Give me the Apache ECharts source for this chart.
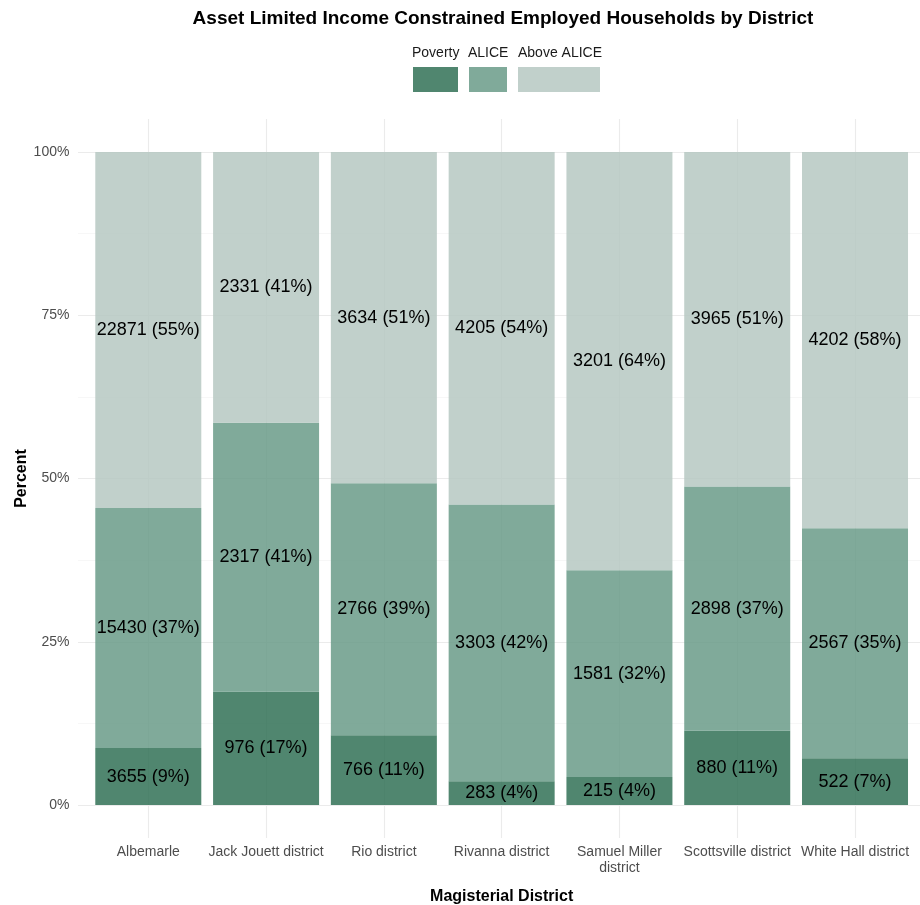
<!DOCTYPE html>
<html>
<head>
<meta charset="utf-8">
<script src="https://cdn.jsdelivr.net/npm/echarts@6/dist/echarts.min.js"></script>
<style>html,body{margin:0;padding:0;background:#fff;}#c{width:920px;height:905px;}</style>
</head>
<body>
<div id="c"></div>
<script>
const categories = ['Albemarle', 'Jack Jouett district', 'Rio district', 'Rivanna district', 'Samuel Miller district', 'Scottsville district', 'White Hall district'];
const tickLabels = ['Albemarle', 'Jack Jouett district', 'Rio district', 'Rivanna district', 'Samuel Miller\ndistrict', 'Scottsville district', 'White Hall district'];
const poverty = [3655, 976, 766, 283, 215, 880, 522];
const alice = [15430, 2317, 2766, 3303, 1581, 2898, 2567];
const aboveAlice = [22871, 2331, 3634, 4205, 3201, 3965, 4202];
const seriesNames = ['Poverty', 'ALICE', 'Above ALICE'];
const yTicks = [0, 25, 50, 75, 100];

const colors = ['rgba(49,113,86,0.85)', 'rgba(106,155,136,0.85)', 'rgba(182,200,194,0.85)'];
const counts = [poverty, alice, aboveAlice];
const totals = categories.map((_, i) => poverty[i] + alice[i] + aboveAlice[i]);
const FONT = "'Liberation Sans', Arial, sans-serif";
const GRID = '#ebebeb';

const chart = echarts.init(document.getElementById('c'), null, {renderer: 'canvas'});

const series = seriesNames.map((name, s) => ({
  name: name,
  type: 'bar',
  stack: 'total',
  xAxisIndex: 0, yAxisIndex: 0,
  barWidth: '90%',
  itemStyle: {color: colors[s]},
  emphasis: {disabled: true},
  data: categories.map((c, i) => counts[s][i] / totals[i] * 100),
  label: {
    show: true,
    position: 'inside',
    color: '#000000',
    fontFamily: FONT,
    fontSize: 18,
    textBorderWidth: 0,
    formatter: p => counts[s][p.dataIndex] + ' (' + Math.round(p.value) + '%)'
  }
}));

const legendCommon = {top: 67, itemHeight: 25, padding: 0, itemGap: 0, icon: 'rect', selectedMode: false, formatter: () => '', textStyle: {fontSize: 1}};

const option = {
  animation: false,
  backgroundColor: '#ffffff',
  textStyle: {fontFamily: FONT},
  title: {
    text: 'Asset Limited Income Constrained Employed Households by District',
    left: 498, top: 4, textAlign: 'center',
    textStyle: {fontFamily: FONT, fontSize: 19, fontWeight: 'bold', color: '#000'}
  },
  legend: [
    Object.assign({data: ['Poverty'], left: 413, itemWidth: 45}, legendCommon),
    Object.assign({data: ['ALICE'], left: 469, itemWidth: 38}, legendCommon),
    Object.assign({data: ['Above ALICE'], left: 518, itemWidth: 82}, legendCommon)
  ],
  graphic: [
    {type: 'text', left: 412, top: 46, style: {text: 'Poverty', fontFamily: FONT, fontSize: 14, fill: '#1a1a1a'}},
    {type: 'text', left: 468, top: 46, style: {text: 'ALICE', fontFamily: FONT, fontSize: 14, fill: '#1a1a1a'}},
    {type: 'text', left: 518, top: 46, style: {text: 'Above ALICE', fontFamily: FONT, fontSize: 14, fill: '#1a1a1a'}}
  ],
  grid: [
    {left: 89.4, right: 6.1, top: 152, bottom: 100, outerBoundsMode: 'none', containLabel: false},
    {left: 78, right: 0, top: 152, bottom: 100, outerBoundsMode: 'none', containLabel: false},
    {left: 148.3, right: 65, top: 119, bottom: 67, outerBoundsMode: 'none', containLabel: false}
  ],
  xAxis: [
    {
      gridIndex: 0, type: 'category', data: categories,
      axisLine: {show: false}, axisTick: {show: false}, splitLine: {show: false},
      axisLabel: {interval: 0, margin: 39, fontSize: 14, color: '#4d4d4d', fontFamily: FONT, lineHeight: 16,
        formatter: (v, i) => tickLabels[i]},
      name: 'Magisterial District', nameLocation: 'middle', nameGap: 84,
      nameTextStyle: {fontSize: 16, fontWeight: 'bold', color: '#000', fontFamily: FONT}
    },
    {gridIndex: 1, type: 'value', show: false, min: 0, max: 1},
    {
      gridIndex: 2, type: 'category', data: categories, boundaryGap: false,
      axisLine: {show: false}, axisTick: {show: false}, axisLabel: {show: false},
      splitLine: {show: true, interval: 0, lineStyle: {color: GRID, width: 1.1}}
    }
  ],
  yAxis: [
    {
      gridIndex: 0, type: 'value', min: 0, max: 100, interval: 25,
      axisLine: {show: false}, axisTick: {show: false}, splitLine: {show: false},
      axisLabel: {margin: 20, fontSize: 14, color: '#4d4d4d', fontFamily: FONT,
        customValues: yTicks, formatter: v => v + '%'},
      name: 'Percent', nameLocation: 'middle', nameGap: 60, nameRotate: 90, nameMoveOverlap: false,
      nameTextStyle: {fontSize: 16, fontWeight: 'bold', color: '#000', fontFamily: FONT}
    },
    {
      gridIndex: 1, type: 'value', min: 0, max: 100, interval: 25,
      axisLine: {show: false}, axisTick: {show: false}, axisLabel: {show: false},
      splitLine: {show: true, lineStyle: {color: GRID, width: 1.1}},
      minorTick: {show: false, splitNumber: 2},
      minorSplitLine: {show: true, lineStyle: {color: '#f2f2f2', width: 0.6}}
    },
    {gridIndex: 2, type: 'value', show: false, min: 0, max: 1}
  ],
  series: series
};
chart.setOption(option);
</script>
</body>
</html>
